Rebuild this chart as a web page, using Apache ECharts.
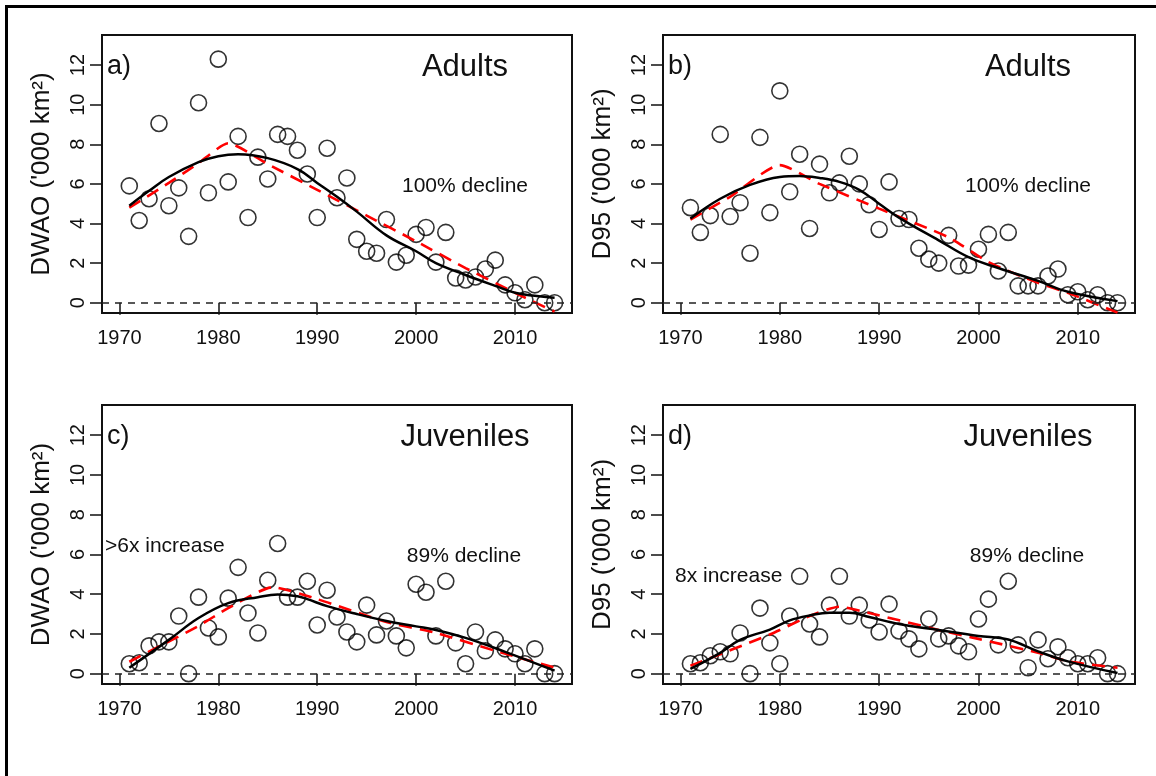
<!DOCTYPE html>
<html>
<head>
<meta charset="utf-8">
<script src="https://cdn.jsdelivr.net/npm/echarts@6/dist/echarts.min.js"></script>
<style>
html,body{margin:0;padding:0;background:#fff;}
#chart{width:1156px;height:776px;}
</style>
</head>
<body>
<div id="chart"></div>
<script>
// ---------- DATA ----------
const years = [1971,1972,1973,1974,1975,1976,1977,1978,1979,1980,1981,1982,1983,1984,1985,1986,1987,1988,1989,1990,
  1991,1992,1993,1994,1995,1996,1997,1998,1999,2000,2001,2002,2003,2004,2005,2006,2007,2008,2009,2010,2011,2012,2013,2014];

const adultsDWAO = [5.9,4.15,5.25,9.05,4.9,5.8,3.35,10.1,5.55,12.3,6.1,8.4,4.3,7.35,6.25,8.5,8.4,7.7,6.5,4.3,
  7.8,5.3,6.3,3.2,2.6,2.5,4.2,2.05,2.4,3.45,3.8,2.05,3.55,1.25,1.15,1.3,1.7,2.15,0.9,0.5,0.15,0.9,0.0,0.0];
const adultsD95 = [4.8,3.55,4.4,8.5,4.35,5.05,2.5,8.35,4.55,10.7,5.6,7.5,3.75,7.0,5.55,6.05,7.4,6.0,4.95,3.7,
  6.1,4.25,4.2,2.75,2.2,2.0,3.4,1.85,1.9,2.7,3.45,1.6,3.55,0.85,0.85,0.85,1.35,1.7,0.4,0.55,0.15,0.4,0.0,0.0];
const juvDWAO = [0.5,0.55,1.4,1.6,1.6,2.9,0.0,3.85,2.3,1.85,3.8,5.35,3.05,2.05,4.7,6.55,3.85,3.85,4.65,2.45,
  4.2,2.85,2.1,1.6,3.45,1.95,2.65,1.9,1.3,4.5,4.1,1.9,4.65,1.55,0.5,2.1,1.15,1.7,1.25,1.0,0.5,1.25,0.0,0.0];
const juvD95 = [0.5,0.55,0.9,1.1,1.0,2.05,0.0,3.3,1.55,0.5,2.9,4.9,2.5,1.85,3.45,4.9,2.9,3.45,2.7,2.1,
  3.5,2.15,1.75,1.25,2.75,1.75,1.9,1.4,1.1,2.75,3.75,1.45,4.65,1.45,0.3,1.7,0.75,1.35,0.8,0.5,0.5,0.8,0.0,0.0];

// smooth (loess) fits: [year, value]
const loessA = [[1971,4.9],[1973,5.65],[1975,6.35],[1978,7.1],[1980,7.4],[1982,7.5],[1985,7.3],[1988,6.75],[1990,6.05],
  [1992,5.35],[1994,4.6],[1997,3.4],[2000,2.6],[2002,2.0],[2005,1.4],[2008,0.85],[2010,0.5],[2012,0.35],[2014,0.25]];
const loessB = [[1971,4.25],[1974,5.25],[1977,5.95],[1980,6.35],[1982,6.4],[1984,6.3],[1986,6.1],[1988,5.7],[1990,5.0],
  [1992,4.3],[1996,3.15],[1999,2.3],[2002,1.75],[2006,1.1],[2009,0.55],[2014,0.08]];
const loessC = [[1971,0.3],[1975,1.7],[1978,2.8],[1981,3.55],[1984,3.85],[1986,3.98],[1988,3.9],[1989,3.75],[1991,3.4],
  [1994,3.0],[1997,2.65],[2000,2.38],[2002,2.2],[2005,1.8],[2009,1.1],[2014,0.15]];
const loessD = [[1971,0.24],[1974,1.05],[1976,1.7],[1979,2.22],[1981,2.68],[1983,2.93],[1985,3.07],[1987,3.07],[1989,2.85],
  [1992,2.5],[1996,2.2],[2000,1.9],[2003,1.72],[2006,1.12],[2009,0.62],[2014,0.03]];

// dashed (red) trend fits
const trendA = [[1971,4.8],[1975,6.05],[1978,7.05],[1981,8.05],[1985,7.0],[1990,5.7],[1995,4.4],[2000,3.1],[2005,1.75],[2010,0.5],[2014,-0.45]];
const trendB = [[1971,4.2],[1975,5.35],[1980,6.95],[1984,6.0],[1990,4.75],[1997,3.3],[2001,2.05],[2006,1.0],[2009,0.5],[2014,-0.5]];
const trendC = [[1971,0.6],[1978,2.4],[1981,3.3],[1985.5,4.35],[1990,3.75],[1997,2.6],[2002,2.05],[2008,1.15],[2014,0.3]];
const trendD = [[1971,0.4],[1979,1.97],[1983,2.9],[1986,3.37],[1989,3.05],[1996,2.2],[2000,1.75],[2006,1.05],[2009,0.62],[2014,0.3]];

const xTicks = [1970,1980,1990,2000,2010];
const yTicks = [0,2,4,6,8,10,12];
const zeroLine = 0;

const yNames = ["DWAO ('000 km²)", "D95 ('000 km²)", "DWAO ('000 km²)", "D95 ('000 km²)"];
const panelTags = ['a)','b)','c)','d)'];
const panelTitles = ['Adults','Adults','Juveniles','Juveniles'];
const leftNotes = ['', '', '>6x increase', '8x increase'];
const rightNotes = ['100% decline','100% decline','89% decline','89% decline'];

// ---------- CHART ----------
const FONT = '"Liberation Sans", Arial, sans-serif';
const pointsSets = [adultsDWAO, adultsD95, juvDWAO, juvD95];
const loessSets = [loessA, loessB, loessC, loessD];
const trendSets = [trendA, trendB, trendC, trendD];

const grids = [
  {left:102, top:35, width:470, height:278},
  {left:663, top:35, width:472, height:278},
  {left:102, top:405, width:470, height:279},
  {left:663, top:405, width:472, height:279}
];

const xAxes = [], yAxes = [], series = [];
grids.forEach((g, i) => {
  g.show = true; g.borderColor = '#111'; g.borderWidth = 2; g.backgroundColor = 'transparent';
  xAxes.push({
    type:'value', gridIndex:i, min:1968.24, max:2015.76,
    axisLine:{show:false},
    splitLine:{show:false},
    axisTick:{show:true, length:12, customValues:xTicks, lineStyle:{color:'#111', width:1.5}},
    axisLabel:{customValues:xTicks, fontSize:20, color:'#111', margin:15, fontFamily:FONT,
      formatter:(v) => String(v)}
  });
  yAxes.push({
    type:'value', gridIndex:i, min:-0.52, max:13.52,
    axisLine:{show:false},
    splitLine:{show:false},
    axisTick:{show:true, length:12, customValues:yTicks, lineStyle:{color:'#111', width:1.5}},
    axisLabel:{customValues:yTicks, fontSize:20, color:'#111', margin:14, rotate:90, fontFamily:FONT,
      formatter:(v) => String(v)},
    name: yNames[i], nameLocation:'middle', nameRotate:90, nameGap:47,
    nameTextStyle:{fontSize:26, color:'#111', fontFamily:FONT}
  });
  series.push({
    type:'scatter', xAxisIndex:i, yAxisIndex:i, z:2,
    data: years.map((y, k) => [y, pointsSets[i][k]]),
    symbol:'circle', symbolSize:16,
    itemStyle:{color:'rgba(0,0,0,0)', borderColor:'#000', borderWidth:1.6},
    markLine:{silent:true, symbol:['none','none'], label:{show:false},
      lineStyle:{color:'#222', type:[7,6], width:1.5},
      data:[{yAxis:zeroLine}]}
  });
  series.push({
    type:'line', xAxisIndex:i, yAxisIndex:i, z:4, showSymbol:false, smooth:0.4,
    data: loessSets[i],
    lineStyle:{color:'#000', width:2.5}
  });
  series.push({
    type:'line', xAxisIndex:i, yAxisIndex:i, z:3, showSymbol:false, smooth:0.2,
    data: trendSets[i],
    lineStyle:{color:'#ff0000', width:2.6, type:[13,8]}
  });
});

// annotation positions (pixels)
const tagPos = [[107,67],[668,67],[107,437],[668,437]];
const titlePos = [[465,67],[1028,67],[465,437],[1028,437]];
const rightPos = [[465,186],[1028,186],[464,556],[1027,556]];
const leftPos = [[0,0],[0,0],[105,546],[675,576]];

const graphic = [
  {type:'line', shape:{x1:6.5,y1:5,x2:6.5,y2:776}, style:{stroke:'#000', lineWidth:3}},
  {type:'line', shape:{x1:5,y1:6.5,x2:1156,y2:6.5}, style:{stroke:'#000', lineWidth:3}}
];
for (let i = 0; i < 4; i++) {
  graphic.push({type:'text', x:tagPos[i][0], y:tagPos[i][1],
    style:{text:panelTags[i], font:'27px ' + FONT, fill:'#111', align:'left', verticalAlign:'middle'}});
  graphic.push({type:'text', x:titlePos[i][0], y:titlePos[i][1],
    style:{text:panelTitles[i], font:'31px ' + FONT, fill:'#111', align:'center', verticalAlign:'middle'}});
  graphic.push({type:'text', x:rightPos[i][0], y:rightPos[i][1],
    style:{text:rightNotes[i], font:'21px ' + FONT, fill:'#111', align:'center', verticalAlign:'middle'}});
  if (leftNotes[i]) {
    graphic.push({type:'text', x:leftPos[i][0], y:leftPos[i][1],
      style:{text:leftNotes[i], font:'21px ' + FONT, fill:'#111', align:'left', verticalAlign:'middle'}});
  }
}

const chart = echarts.init(document.getElementById('chart'), null, {renderer:'canvas'});
chart.setOption({
  animation:false,
  backgroundColor:'#fff',
  textStyle:{fontFamily:FONT},
  grid:grids, xAxis:xAxes, yAxis:yAxes, series:series, graphic:graphic
});
</script>
</body>
</html>
